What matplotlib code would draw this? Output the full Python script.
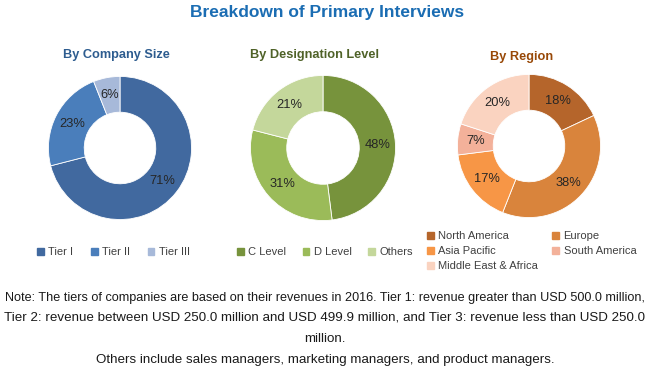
import matplotlib
matplotlib.use("Agg")
import matplotlib.pyplot as plt
from matplotlib.patches import Patch

plt.rcParams['font.family'] = ['Liberation Sans', 'DejaVu Sans']

# data
size_labels = ["Tier I", "Tier II", "Tier III"]
size_values = [71, 23, 6]
size_colors = ["#41699F", "#4A7EBB", "#A7B9D9"]

desig_labels = ["C Level", "D Level", "Others"]
desig_values = [48, 31, 21]
desig_colors = ["#77933C", "#9BBB59", "#C4D79B"]

region_labels = ["North America", "Europe", "Asia Pacific", "South America", "Middle East & Africa"]
region_values = [18, 38, 17, 7, 20]
region_colors = ["#B5652B", "#D9843C", "#F79646", "#F3B19A", "#FAD3C0"]

W, H = 650, 369
fig = plt.figure(figsize=(W / 100, H / 100), dpi=100)
fig.patch.set_facecolor("white")


def px_axes(cx, cy, r):
    # square axes centered on (cx, cy) in image pixels (y from top)
    return fig.add_axes([(cx - r) / W, 1 - (cy + r) / H, 2 * r / W, 2 * r / H])


def donut(cx, cy, r, values, colors):
    ax = px_axes(cx, cy, r)
    ax.pie(values, colors=colors, startangle=90, counterclock=False, radius=1,
           wedgeprops=dict(width=0.5, edgecolor="white", linewidth=0.6),
           autopct="%d%%", pctdistance=0.75,
           textprops=dict(color="#262626", fontsize=9.3))
    ax.set_xlim(-1.02, 1.02)
    ax.set_ylim(-1.02, 1.02)
    ax.set_aspect("equal")
    ax.axis("off")
    return ax


donut(120, 148, 73, size_values, size_colors)
donut(323, 148, 74, desig_values, desig_colors)
donut(529, 146, 73, region_values, region_colors)

# titles
fig.text(327 / W, 1 - 12 / H, "Breakdown of Primary Interviews", ha="center", va="center",
         fontsize=12.5, fontweight="bold", color="#1B6DB3")
fig.text(116 / W, 1 - 55 / H, "By Company Size", ha="center", va="center",
         fontsize=9.2, fontweight="bold", color="#2D5C8F")
fig.text(314 / W, 1 - 55 / H, "By Designation Level", ha="center", va="center",
         fontsize=9.2, fontweight="bold", color="#4F6228")
fig.text(522 / W, 1 - 57 / H, "By Region", ha="center", va="center",
         fontsize=9.2, fontweight="bold", color="#984807")

# legends
leg_kw = dict(frameon=False, fontsize=8, handlelength=0.6, handleheight=0.6,
              handletextpad=0.4, labelcolor="#404040", borderpad=0, borderaxespad=0)

h1 = [Patch(color=c, label=l) for l, c in zip(size_labels, size_colors)]
fig.legend(handles=h1, ncol=3, loc="center left", bbox_to_anchor=(37 / W, 1 - 252 / H),
           columnspacing=1.6, **leg_kw)

h2 = [Patch(color=c, label=l) for l, c in zip(desig_labels, desig_colors)]
fig.legend(handles=h2, ncol=3, loc="center left", bbox_to_anchor=(237 / W, 1 - 252 / H),
           columnspacing=1.5, **leg_kw)

order = [0, 2, 4, 1, 3]
h3 = [Patch(color=region_colors[i], label=region_labels[i]) for i in order]
fig.legend(handles=h3, ncol=2, loc="center left", bbox_to_anchor=(427 / W, 1 - 251 / H),
           columnspacing=1.3, labelspacing=0.45, **leg_kw)

# note
note_lines = [
    "Note: The tiers of companies are based on their revenues in 2016. Tier 1: revenue greater than USD 500.0 million,",
    "Tier 2: revenue between USD 250.0 million and USD 499.9 million, and Tier 3: revenue less than USD 250.0",
    "million.",
    "Others include sales managers, marketing managers, and product managers.",
]
note_y = [298, 318, 339, 360]
note_size = [9.1, 9.6, 9.6, 9.6]
for line, y, fs in zip(note_lines, note_y, note_size):
    fig.text(325 / W, 1 - y / H, line, ha="center", va="center",
             fontsize=fs, color="#1A1A1A")

fig.savefig("out.png", dpi=100)
